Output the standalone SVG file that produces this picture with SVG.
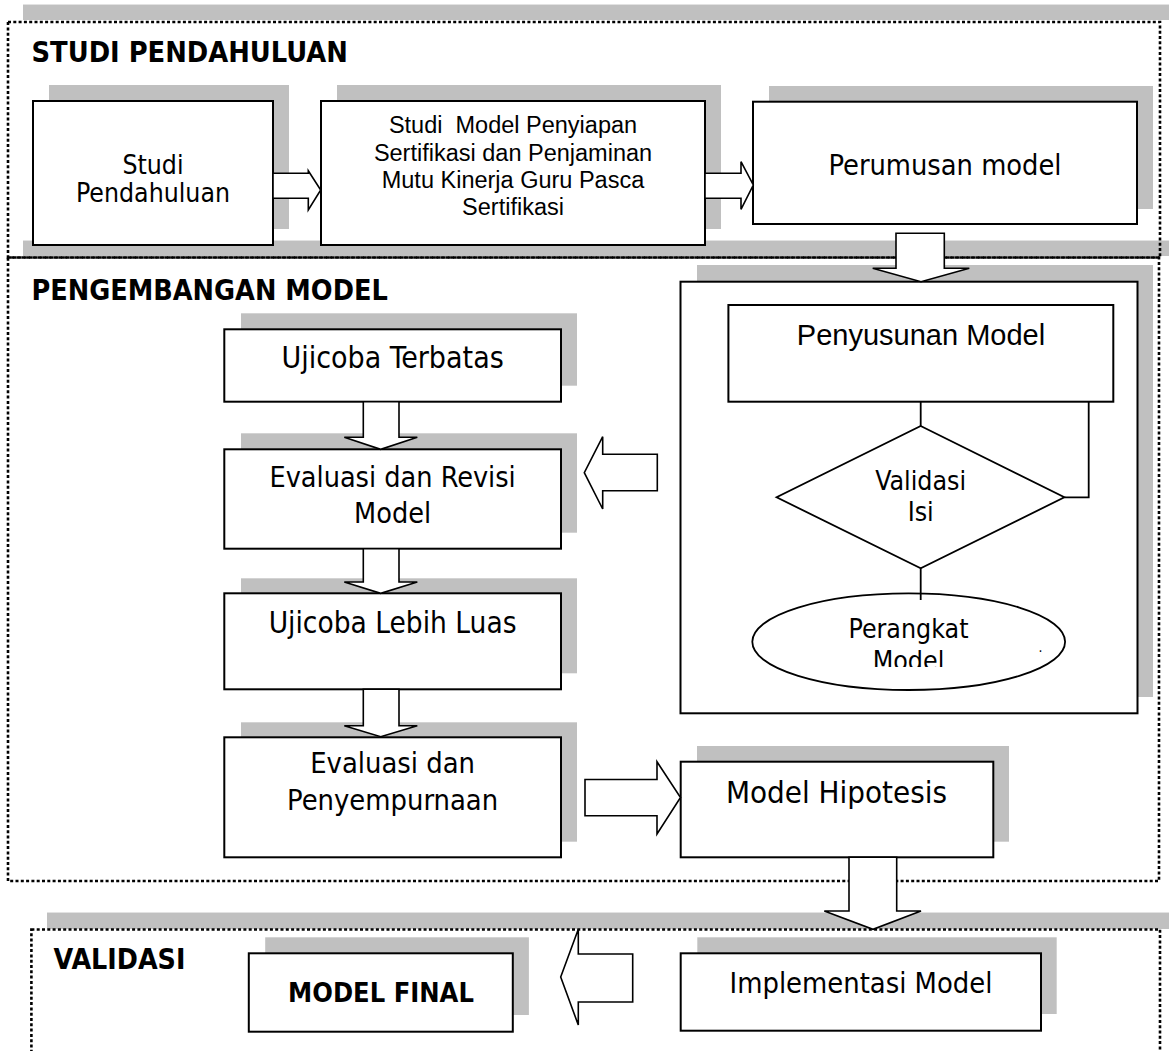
<svg xmlns="http://www.w3.org/2000/svg" width="1169" height="1051" viewBox="0 0 1169 1051">
<defs>
<style>
.t{font-family:"DejaVu Sans Condensed","DejaVu Sans",sans-serif;font-stretch:condensed;fill:#000}
.a{font-family:"Liberation Sans",Arial,sans-serif;fill:#000}
.b{font-weight:bold}
.m{text-anchor:middle}
.sec{fill:none;stroke:#000;stroke-width:2.6;stroke-dasharray:3 2.3}
.band{fill:#c0c0c0}
.bandline{stroke:#e2e2e2;stroke-width:1.2}
.sh{fill:#c0c0c0}
.box{fill:#fff;stroke:#000;stroke-width:2}
.arr{fill:#fff;stroke:#000;stroke-width:1.6;stroke-linejoin:miter}
.ln{fill:none;stroke:#000;stroke-width:1.8}
</style>
<clipPath id="clipModel"><rect x="700" y="600" width="420" height="67"/></clipPath>
</defs>
<rect width="1169" height="1051" fill="#fff"/>

<!-- section bands -->
<g id="bands">
<rect class="band" x="23" y="4" width="1146" height="16"/>
<line class="bandline" x1="23" y1="4.5" x2="1169" y2="4.5"/>
<rect class="band" x="23" y="240" width="1146" height="16"/>
<line class="bandline" x1="23" y1="240.5" x2="1169" y2="240.5"/>
<rect class="band" x="47" y="912" width="1122" height="17"/>
<line class="bandline" x1="47" y1="912.5" x2="1169" y2="912.5"/>
</g>

<g id="section-studi">
<rect class="sec" x="8" y="22" width="1152" height="235.5"/>
<text class="t b" x="31.5" y="61.7" font-size="28.7">STUDI PENDAHULUAN</text>
</g>
<g id="section-pengembangan">
<rect class="sec" x="8" y="257.5" width="1151" height="623.5"/>
<text class="t b" x="31.4" y="300" font-size="28.5">PENGEMBANGAN MODEL</text>
</g>
<g id="section-validasi">
<rect class="sec" x="31.4" y="929.5" width="1128.6" height="160"/>
<text class="t b" x="53.6" y="969.3" font-size="28.3">VALIDASI</text>
</g>

<g id="node-studi-pendahuluan">
<rect class="sh" x="49" y="85" width="240" height="144"/>
<rect class="box" x="33" y="101" width="240" height="144"/>
<text class="t m" x="153" y="173.5" font-size="26.4">Studi</text>
<text class="t m" x="153" y="201.7" font-size="26.4">Pendahuluan</text>
</g>

<g id="node-studi-model">
<rect class="sh" x="337" y="85" width="384" height="144"/>
<rect class="box" x="321" y="101" width="384" height="144"/>
<text class="a m" x="513" y="133.3" font-size="23.5" style="white-space:pre">Studi  Model Penyiapan</text>
<text class="a m" x="513" y="161" font-size="23.5">Sertifikasi dan Penjaminan</text>
<text class="a m" x="513" y="188.3" font-size="23.5">Mutu Kinerja Guru Pasca</text>
<text class="a m" x="513" y="215" font-size="23.5">Sertifikasi</text>
</g>

<g id="node-perumusan">
<rect class="sh" x="769" y="86" width="384" height="123"/>
<rect class="box" x="753" y="101.7" width="384" height="122.3"/>
<text class="t m" x="945" y="175" font-size="28.7">Perumusan model</text>
</g>

<g id="node-container">
<rect class="sh" x="697" y="265" width="456" height="432"/>
<rect class="box" x="680.5" y="281.7" width="457" height="431.6"/>
</g>

<g id="node-penyusunan">
<rect class="box" x="728.4" y="305" width="384.9" height="96.7"/>
<text class="a m" x="921" y="345" font-size="29">Penyusunan Model</text>
</g>

<g id="node-validasi-isi">
<polygon class="ln" points="920.7,426 1064.4,497.3 920.7,568.3 776.6,497.3" style="fill:#fff"/>
<text class="t m" x="920.7" y="490" font-size="26.5">Validasi</text>
<text class="t m" x="920.7" y="520.7" font-size="26.5">Isi</text>
</g>

<g id="node-perangkat">
<ellipse class="ln" cx="908.7" cy="641.7" rx="156.4" ry="48.3" style="fill:#fff"/>
<text class="t m" x="908.5" y="638.3" font-size="26.5">Perangkat</text>
<text class="t m" x="908.5" y="669.5" font-size="26.5" clip-path="url(#clipModel)">Model</text>
<text class="t" x="1038.5" y="652" font-size="14">.</text>
</g>

<g id="node-ujicoba-terbatas">
<rect class="sh" x="241" y="313.3" width="336" height="72.4"/>
<rect class="box" x="224.3" y="329.3" width="336.7" height="72.4"/>
<text class="t m" x="392.6" y="368.3" font-size="30">Ujicoba Terbatas</text>
</g>

<g id="node-evaluasi-revisi">
<rect class="sh" x="241" y="433.3" width="336" height="99.4"/>
<rect class="box" x="224.3" y="449.3" width="336.7" height="99.4"/>
<text class="t m" x="392.6" y="486.7" font-size="28.5">Evaluasi dan Revisi</text>
<text class="t m" x="392.6" y="523.3" font-size="28.5">Model</text>
</g>

<g id="node-ujicoba-luas">
<rect class="sh" x="241" y="578.3" width="336" height="95"/>
<rect class="box" x="224.3" y="593.3" width="336.7" height="96"/>
<text class="t m" x="392.6" y="633.3" font-size="29.5">Ujicoba Lebih Luas</text>
</g>

<g id="node-evaluasi-penyempurnaan">
<rect class="sh" x="241" y="722.3" width="336" height="119.4"/>
<rect class="box" x="224.3" y="737.3" width="336.7" height="120"/>
<text class="t m" x="392.6" y="773.3" font-size="28.8">Evaluasi dan</text>
<text class="t m" x="392.6" y="810" font-size="28.8">Penyempurnaan</text>
</g>

<g id="node-model-hipotesis">
<rect class="sh" x="697" y="746" width="312" height="95.7"/>
<rect class="box" x="680.7" y="761.7" width="312.6" height="95.6"/>
<text class="t m" x="836.5" y="803.3" font-size="31">Model Hipotesis</text>
</g>

<g id="node-implementasi">
<rect class="sh" x="697.3" y="937.3" width="359.4" height="76.7"/>
<rect class="box" x="680.7" y="953.3" width="360.3" height="77.4"/>
<text class="t m" x="861" y="992.7" font-size="28.8">Implementasi Model</text>
</g>

<g id="node-model-final">
<rect class="sh" x="265.2" y="937.3" width="263.7" height="77.7"/>
<rect class="box" x="248.8" y="953.3" width="264" height="78.4"/>
<text class="t b m" x="381" y="1001.7" font-size="27">MODEL FINAL</text>
</g>

<g id="connectors">
<polygon class="arr" points="273,173.3 308.3,173.3 308.3,170.7 320.7,190 308.3,210 308.3,198.3 273,198.3"/>
<polygon class="arr" points="705,173.3 741,173.3 741,161.7 753.3,185 741,209.3 741,198.3 705,198.3"/>
<polygon class="arr" points="896,233.3 944.3,233.3 944.3,268.3 969.3,268.3 921,281.7 872.7,268.3 896,268.3"/>
<polygon class="arr" points="363.3,401.7 399,401.7 399,437.3 417.3,437.3 380.7,449.3 344.3,437.3 363.3,437.3"/>
<polygon class="arr" points="363.3,548.7 399,548.7 399,582 417.3,582 380.7,593.3 344.3,582 363.3,582"/>
<polygon class="arr" points="363.3,689.3 399,689.3 399,725.7 417.3,725.7 380.7,736.7 344.3,725.7 363.3,725.7"/>
<polygon class="arr" points="585,779.5 657,779.5 657,761.7 680.5,797.5 657,834 657,815.7 585,815.7"/>
<polygon class="arr" points="657.3,454.3 657.3,490.7 602.7,490.7 602.7,509 584.3,472.7 602.7,436.7 602.7,454.3"/>
<polygon class="arr" points="849,857.3 896.7,857.3 896.7,911 921,911 873,929.3 824.3,911 849,911"/>
<polygon class="arr" points="632.7,954 632.7,1002 578.3,1002 578.3,1025 560.7,977 578.3,929.3 578.3,954"/>
<line class="ln" x1="920.7" y1="401.7" x2="920.7" y2="426"/>
<polyline class="ln" points="1064.4,497.3 1088.7,497.3 1088.7,401.7"/>
<line class="ln" x1="920.7" y1="568.3" x2="920.7" y2="600"/>
</g>
</svg>
